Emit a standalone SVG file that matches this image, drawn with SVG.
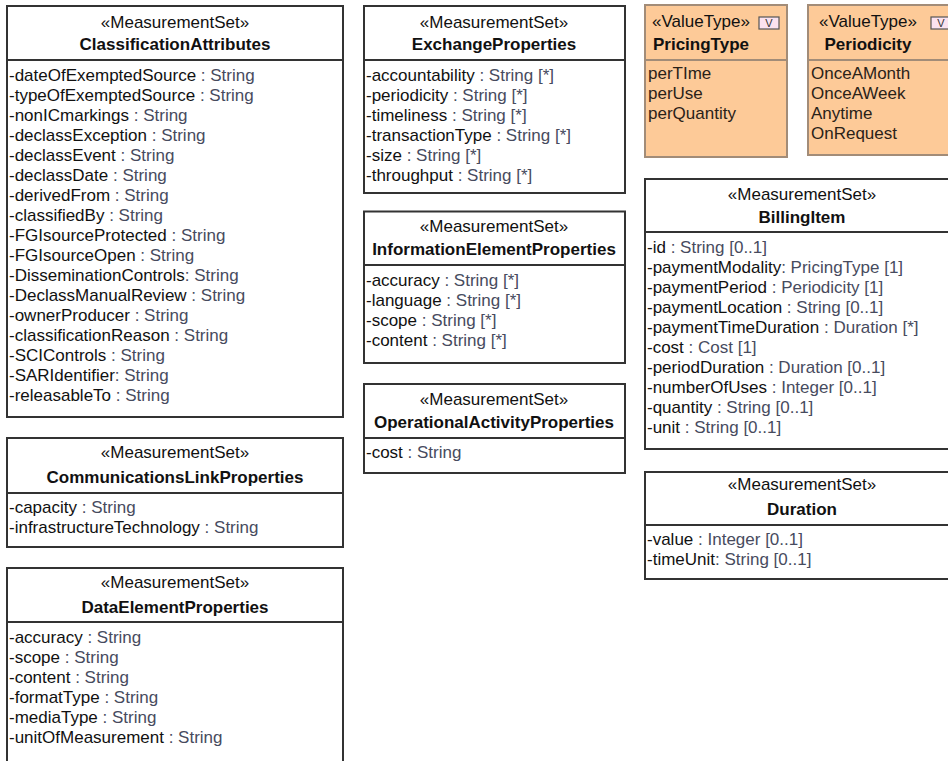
<svg xmlns="http://www.w3.org/2000/svg" width="948" height="761" viewBox="0 0 948 761">
<style>
.box{fill:#fff;stroke:#333;stroke-width:2}
.div{stroke:#333;stroke-width:2}
.vt{fill:#fdca98;stroke:#a28c78;stroke-width:2}
.vdiv{stroke:#a28c78;stroke-width:2}
.vb{fill:#fbe2ef;stroke:#555;stroke-width:1.2}
text{font-family:"Liberation Sans",Arial,Helvetica,sans-serif;font-size:17px;fill:#111}
.st{text-anchor:middle}
.nm{text-anchor:middle;font-weight:bold}
.t{fill:#474b5e}
.lit{fill:#2a2218}
.v{font-size:11px;text-anchor:middle;fill:#333}
</style>
<rect width="948" height="761" fill="#fff"/>

<g id="ClassificationAttributes">
<rect class="box" x="7" y="6" width="336" height="411"/>
<line class="div" x1="7" y1="60" x2="343" y2="60"/>
<text class="st" x="175" y="28">«MeasurementSet»</text>
<text class="nm" x="175" y="50">ClassificationAttributes</text>
<text x="9" y="80.5">-dateOfExemptedSource<tspan class="t"> : String</tspan></text>
<text x="9" y="100.5">-typeOfExemptedSource<tspan class="t"> : String</tspan></text>
<text x="9" y="120.5">-nonICmarkings<tspan class="t"> : String</tspan></text>
<text x="9" y="140.5">-declassException<tspan class="t"> : String</tspan></text>
<text x="9" y="160.5">-declassEvent<tspan class="t"> : String</tspan></text>
<text x="9" y="180.5">-declassDate<tspan class="t"> : String</tspan></text>
<text x="9" y="200.5">-derivedFrom<tspan class="t"> : String</tspan></text>
<text x="9" y="220.5">-classifiedBy<tspan class="t"> : String</tspan></text>
<text x="9" y="240.5">-FGIsourceProtected<tspan class="t">  : String</tspan></text>
<text x="9" y="260.5">-FGIsourceOpen<tspan class="t">  : String</tspan></text>
<text x="9" y="280.5">-DisseminationControls<tspan class="t">: String</tspan></text>
<text x="9" y="300.5">-DeclassManualReview<tspan class="t"> : String</tspan></text>
<text x="9" y="320.5">-ownerProducer<tspan class="t"> : String</tspan></text>
<text x="9" y="340.5">-classificationReason<tspan class="t"> : String</tspan></text>
<text x="9" y="360.5">-SCIControls<tspan class="t"> : String</tspan></text>
<text x="9" y="380.5">-SARIdentifier<tspan class="t">: String</tspan></text>
<text x="9" y="400.5">-releasableTo<tspan class="t"> : String</tspan></text>
</g>

<g id="CommunicationsLinkProperties">
<rect class="box" x="7" y="438" width="336" height="109"/>
<line class="div" x1="7" y1="493" x2="343" y2="493"/>
<text class="st" x="175" y="458">«MeasurementSet»</text>
<text class="nm" x="175" y="483">CommunicationsLinkProperties</text>
<text x="9" y="513">-capacity<tspan class="t"> : String</tspan></text>
<text x="9" y="533">-infrastructureTechnology<tspan class="t"> : String</tspan></text>
</g>

<g id="DataElementProperties">
<rect class="box" x="7" y="568" width="336" height="210"/>
<line class="div" x1="7" y1="622" x2="343" y2="622"/>
<text class="st" x="175" y="588">«MeasurementSet»</text>
<text class="nm" x="175" y="613">DataElementProperties</text>
<text x="9" y="643">-accuracy<tspan class="t">  : String</tspan></text>
<text x="9" y="663">-scope<tspan class="t"> : String</tspan></text>
<text x="9" y="683">-content<tspan class="t"> : String</tspan></text>
<text x="9" y="703">-formatType<tspan class="t"> : String</tspan></text>
<text x="9" y="723">-mediaType<tspan class="t"> : String</tspan></text>
<text x="9" y="743">-unitOfMeasurement<tspan class="t"> : String</tspan></text>
</g>

<g id="ExchangeProperties">
<rect class="box" x="364" y="6" width="261" height="187"/>
<line class="div" x1="364" y1="60" x2="625" y2="60"/>
<text class="st" x="494" y="28">«MeasurementSet»</text>
<text class="nm" x="494" y="50">ExchangeProperties</text>
<text x="366" y="80.5">-accountability<tspan class="t"> : String [*]</tspan></text>
<text x="366" y="100.5">-periodicity<tspan class="t"> : String [*]</tspan></text>
<text x="366" y="120.5">-timeliness<tspan class="t"> : String [*]</tspan></text>
<text x="366" y="140.5">-transactionType<tspan class="t">  : String [*]</tspan></text>
<text x="366" y="160.5">-size<tspan class="t"> : String [*]</tspan></text>
<text x="366" y="180.5">-throughput<tspan class="t"> : String [*]</tspan></text>
</g>

<g id="InformationElementProperties">
<rect class="box" x="364" y="211.5" width="261" height="151.5"/>
<line class="div" x1="364" y1="265" x2="625" y2="265"/>
<text class="st" x="494" y="232">«MeasurementSet»</text>
<text class="nm" x="494" y="255">InformationElementProperties</text>
<text x="366" y="286">-accuracy<tspan class="t">  : String [*]</tspan></text>
<text x="366" y="306">-language<tspan class="t"> : String [*]</tspan></text>
<text x="366" y="326">-scope<tspan class="t"> : String [*]</tspan></text>
<text x="366" y="346">-content<tspan class="t"> : String [*]</tspan></text>
</g>

<g id="OperationalActivityProperties">
<rect class="box" x="364" y="384" width="261" height="89"/>
<line class="div" x1="364" y1="438" x2="625" y2="438"/>
<text class="st" x="494" y="405">«MeasurementSet»</text>
<text class="nm" x="494" y="428">OperationalActivityProperties</text>
<text x="366" y="458">-cost<tspan class="t"> : String</tspan></text>
</g>

<g id="PricingType">
<rect class="vt" x="645" y="5" width="142" height="152"/>
<line class="vdiv" x1="645" y1="60" x2="787" y2="60"/>
<text class="st" x="701" y="27">«ValueType»</text>
<rect class="vb" x="759" y="17" width="20" height="12"/>
<text class="v" x="769" y="27">V</text>
<text class="nm" x="701" y="50">PricingType</text>
<text class="lit" x="648" y="79">perTIme</text>
<text class="lit" x="648" y="99">perUse</text>
<text class="lit" x="648" y="119">perQuantity</text>
</g>

<g id="Periodicity">
<rect class="vt" x="808" y="5" width="152" height="150"/>
<line class="vdiv" x1="808" y1="60" x2="960" y2="60"/>
<text class="st" x="868" y="27">«ValueType»</text>
<rect class="vb" x="931" y="17" width="20" height="12"/>
<text class="v" x="941" y="27">V</text>
<text class="nm" x="868" y="50">Periodicity</text>
<text class="lit" x="811" y="79">OnceAMonth</text>
<text class="lit" x="811" y="99">OnceAWeek</text>
<text class="lit" x="811" y="119">Anytime</text>
<text class="lit" x="811" y="139">OnRequest</text>
</g>

<g id="BillingItem">
<rect class="box" x="645" y="179" width="313" height="270"/>
<line class="div" x1="645" y1="232" x2="958" y2="232"/>
<text class="st" x="802" y="200">«MeasurementSet»</text>
<text class="nm" x="802" y="223">BillingItem</text>
<text x="647" y="253">-id<tspan class="t"> : String [0..1]</tspan></text>
<text x="647" y="273">-paymentModality<tspan class="t">: PricingType [1]</tspan></text>
<text x="647" y="293">-paymentPeriod<tspan class="t"> : Periodicity [1]</tspan></text>
<text x="647" y="313">-paymentLocation<tspan class="t"> : String [0..1]</tspan></text>
<text x="647" y="333">-paymentTimeDuration<tspan class="t"> : Duration [*]</tspan></text>
<text x="647" y="353">-cost<tspan class="t"> : Cost [1]</tspan></text>
<text x="647" y="373">-periodDuration<tspan class="t"> : Duration [0..1]</tspan></text>
<text x="647" y="393">-numberOfUses<tspan class="t">  : Integer [0..1]</tspan></text>
<text x="647" y="413">-quantity<tspan class="t"> : String [0..1]</tspan></text>
<text x="647" y="433">-unit<tspan class="t"> : String [0..1]</tspan></text>
</g>

<g id="Duration">
<rect class="box" x="645" y="472" width="313" height="107"/>
<line class="div" x1="645" y1="525" x2="958" y2="525"/>
<text class="st" x="802" y="490">«MeasurementSet»</text>
<text class="nm" x="802" y="515">Duration</text>
<text x="647" y="545">-value<tspan class="t"> : Integer [0..1]</tspan></text>
<text x="647" y="565">-timeUnit<tspan class="t">: String [0..1]</tspan></text>
</g>

<g id="connectors"></g>
</svg>
